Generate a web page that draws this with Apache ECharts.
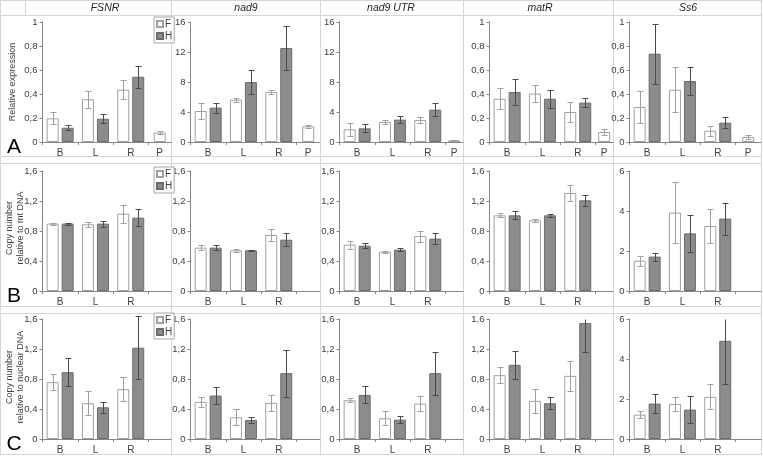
<!DOCTYPE html>
<html><head><meta charset="utf-8">
<script src="https://cdn.jsdelivr.net/npm/echarts@6/dist/echarts.min.js"></script>
<style>html,body{margin:0;padding:0;background:#fff}#c{width:763px;height:457px}</style>
</head><body><div id="c"></div>
<script>
// ---------- data ----------
const categories = ['B', 'L', 'R'];
const extraCategory = ['P'];
const genes = ['FSNR', 'nad9', 'nad9 UTR', 'matR', 'Ss6'];
const rowLetters = ['A', 'B', 'C'];
const rowTitles = ['Relative expression', 'Copy number\nrelative to mt DNA', 'Copy number\nrelative to nuclear DNA'];
const legendNames = ['F', 'H'];

// Row A: relative expression (per gene: B, L, R)
const exprF    = [[0.197, 0.356, 0.436], [4.13, 5.64, 6.67], [1.69, 2.67, 2.93], [0.361, 0.403, 0.25], [0.292, 0.436, 0.094]];
const exprFerr = [[0.049, 0.07, 0.078], [1.05, 0.25, 0.3], [0.85, 0.3, 0.38], [0.09, 0.072, 0.083], [0.13, 0.19, 0.04]];
const exprH    = [[0.119, 0.194, 0.544], [4.58, 8.0, 12.53], [1.82, 2.98, 4.31], [0.417, 0.361, 0.328], [0.736, 0.508, 0.161]];
const exprHerr = [[0.02, 0.036, 0.09], [0.65, 1.6, 2.95], [0.55, 0.5, 0.9], [0.11, 0.075, 0.038], [0.25, 0.117, 0.048]];
const exprP    = [0.078, 2.09, 0.22, 0.083, 0.042];
const exprPerr = [0.015, 0.23, 0.05, 0.027, 0.015];

// Row B: copy number relative to mt DNA
const mtF    = [[0.898, 0.889, 1.031], [0.578, 0.542, 0.747], [0.618, 0.524, 0.733], [1.009, 0.942, 1.307], [1.52, 3.92, 3.25]];
const mtFerr = [[0.012, 0.03, 0.12], [0.03, 0.022, 0.082], [0.055, 0.015, 0.073], [0.028, 0.022, 0.11], [0.25, 1.54, 0.84]];
const mtH    = [[0.898, 0.898, 0.978], [0.578, 0.542, 0.684], [0.604, 0.551, 0.698], [1.009, 1.009, 1.209], [1.72, 2.88, 3.62]];
const mtHerr = [[0.012, 0.038, 0.115], [0.03, 0.005, 0.09], [0.032, 0.018, 0.073], [0.055, 0.02, 0.075], [0.2, 0.93, 0.8]];

// Row C: copy number relative to nuclear DNA
const nuF    = [[0.758, 0.477, 0.664], [0.495, 0.29, 0.481], [0.517, 0.276, 0.472], [0.851, 0.508, 0.842], [1.22, 1.75, 2.11]];
const nuFerr = [[0.107, 0.163, 0.163], [0.062, 0.105, 0.103], [0.027, 0.093, 0.1], [0.107, 0.165, 0.196], [0.18, 0.35, 0.63]];
const nuH    = [[0.891, 0.423, 1.217], [0.579, 0.254, 0.878], [0.588, 0.258, 0.878], [0.989, 0.477, 1.546], [1.77, 1.47, 4.91]];
const nuHerr = [[0.185, 0.074, 0.42], [0.114, 0.038, 0.312], [0.113, 0.045, 0.285], [0.185, 0.078, 0.387], [0.48, 0.67, 2.15]];

const axisMax  = [[1, 16, 16, 1, 1], [1.6, 1.6, 1.6, 1.6, 6], [1.6, 1.6, 1.6, 1.6, 6]];
const axisStep = [[0.2, 4, 4, 0.2, 0.2], [0.4, 0.4, 0.4, 0.4, 2], [0.4, 0.4, 0.4, 0.4, 2]];

// ---------- layout / style ----------
const FONT = '"Liberation Sans", Arial, sans-serif';
const AXIS = '#868686', TXT = '#404040', LINE = '#d6d6d6';
const F_BORDER = '#a0a0a0', H_FILL = '#8c8c8c', H_BORDER = '#6c6c6c';
const F_ERR = '#a0a0a0', H_ERR = '#4a4a4a';
const CAT_W = 35.3;
const colX0 = [42.5, 190.5, 339.5, 489.5, 629.5];
const colRight = [171, 320, 463, 613, 761];
const rowTop = [22, 171, 319];
const PLOT_H = 120;
const BAR_W = 12, BAR_GAP = '25%', OFF = 7.5;

const rowsF = [exprF, mtF, nuF], rowsFerr = [exprFerr, mtFerr, nuFerr];
const rowsH = [exprH, mtH, nuH], rowsHerr = [exprHerr, mtHerr, nuHerr];

function fmt(v) { return String(Math.round(v * 100) / 100).replace('.', ','); }

function errRender(offset, color) {
  return function (params, api) {
    const i = api.value(0), v = api.value(1), e = api.value(2);
    const top = api.coord([i, v + e]);
    const bot = api.coord([i, v - e]);
    const x = Math.round(top[0] + offset) + 0.5;
    const cs = params.coordSys;
    let yT = top[1], capTop = true;
    if (yT < cs.y - 3) { yT = cs.y; capTop = false; }
    yT = Math.round(yT) + 0.5;
    const yB = Math.round(bot[1]) + 0.5;
    const st = { stroke: color, lineWidth: 1 };
    const ch = [{ type: 'line', shape: { x1: x, y1: yT, x2: x, y2: yB }, style: st }];
    if (capTop) ch.push({ type: 'line', shape: { x1: x - 3, y1: yT, x2: x + 3, y2: yT }, style: st });
    ch.push({ type: 'line', shape: { x1: x - 3, y1: yB, x2: x + 3, y2: yB }, style: st });
    return { type: 'group', children: ch };
  };
}

const grids = [], xAxes = [], yAxes = [], series = [], legends = [], graphics = [];
const labelStyle = { color: TXT, fontSize: 9.5, fontFamily: FONT };

for (let r = 0; r < 3; r++) {
  for (let c = 0; c < 5; c++) {
    const gi = grids.length;
    const x0 = colX0[c];
    const mainW = 3 * CAT_W;
    grids.push({ left: x0, top: rowTop[r], width: mainW, height: PLOT_H });
    grids.push({ left: x0 + mainW, top: rowTop[r], width: colRight[c] - (x0 + mainW), height: PLOT_H });
    xAxes.push({
      type: 'category', gridIndex: gi, data: categories,
      axisLine: { lineStyle: { color: AXIS } },
      axisTick: { show: true, length: 3, lineStyle: { color: AXIS } },
      axisLabel: { color: TXT, fontSize: 10, fontFamily: FONT, margin: 6, interval: 0 }
    });
    xAxes.push({
      type: 'category', gridIndex: gi + 1, data: r === 0 ? extraCategory : [''],
      axisLine: { lineStyle: { color: AXIS } },
      axisTick: { show: false },
      axisLabel: { color: TXT, fontSize: 10, fontFamily: FONT, margin: 6, interval: 0 }
    });
    yAxes.push({
      type: 'value', gridIndex: gi, min: 0, max: axisMax[r][c], interval: axisStep[r][c],
      axisLine: { show: true, lineStyle: { color: AXIS } },
      axisTick: { show: true, length: 3, lineStyle: { color: AXIS } },
      splitLine: { show: false },
      axisLabel: Object.assign({ margin: 5, formatter: fmt }, labelStyle)
    });
    yAxes.push({ type: 'value', gridIndex: gi + 1, min: 0, max: axisMax[r][c], show: false, splitLine: { show: false } });

    const fv = rowsF[r][c], fe = rowsFerr[r][c], hv = rowsH[r][c], he = rowsHerr[r][c];
    series.push({
      type: 'bar', name: 'F', xAxisIndex: gi, yAxisIndex: gi, data: fv,
      barWidth: BAR_W, barGap: BAR_GAP,
      itemStyle: { color: '#ffffff', borderColor: F_BORDER, borderWidth: 1 }
    });
    series.push({
      type: 'bar', name: 'H', xAxisIndex: gi, yAxisIndex: gi, data: hv,
      barWidth: BAR_W, barGap: BAR_GAP,
      itemStyle: { color: H_FILL, borderColor: H_BORDER, borderWidth: 1 }
    });
    series.push({
      type: 'custom', name: 'Ferr', xAxisIndex: gi, yAxisIndex: gi, z: 5,
      renderItem: errRender(-OFF, F_ERR), encode: { x: 0, y: 1 },
      data: fv.map((v, i) => [i, v, fe[i]])
    });
    series.push({
      type: 'custom', name: 'Herr', xAxisIndex: gi, yAxisIndex: gi, z: 5,
      renderItem: errRender(OFF, H_ERR), encode: { x: 0, y: 1 },
      data: hv.map((v, i) => [i, v, he[i]])
    });
    if (r === 0) {
      series.push({
        type: 'bar', name: 'F', xAxisIndex: gi + 1, yAxisIndex: gi + 1, data: [exprP[c]],
        barWidth: BAR_W,
        itemStyle: { color: '#ffffff', borderColor: F_BORDER, borderWidth: 1 }
      });
      series.push({
        type: 'custom', name: 'Perr', xAxisIndex: gi + 1, yAxisIndex: gi + 1, z: 5,
        renderItem: errRender(0, F_ERR), encode: { x: 0, y: 1 },
        data: [[0, exprP[c], exprPerr[c]]]
      });
    }
  }
}

const legendTops = [17, 167, 313];
for (let r = 0; r < 3; r++) {
  legends.push({
    data: legendNames, orient: 'vertical', left: 154, top: legendTops[r],
    itemWidth: 6, itemHeight: 6, itemGap: 2, padding: [2, 2, 2, 2],
    borderColor: '#a6a6a6', borderWidth: 1, backgroundColor: '#ffffff',
    selectedMode: false, icon: 'rect',
    textStyle: { color: TXT, fontSize: 10, fontFamily: FONT, padding: [0, 0, 0, -3] }
  });
}

// table lines
const lineStyle = { stroke: LINE, lineWidth: 1 };
[0.5, 15.5, 156.5, 163.5, 306.5, 313.5, 454.5].forEach(y => {
  graphics.push({ type: 'line', shape: { x1: 0, y1: y, x2: 762, y2: y }, style: lineStyle, silent: true, z: -10 });
});
[0.5, 171.5, 320.5, 463.5, 613.5, 761.5].forEach(x => {
  graphics.push({ type: 'line', shape: { x1: x, y1: 0, x2: x, y2: 455 }, style: lineStyle, silent: true, z: -10 });
});
graphics.push({ type: 'line', shape: { x1: 25.5, y1: 0, x2: 25.5, y2: 15.5 }, style: lineStyle, silent: true, z: -10 });

const titleX = [105, 246, 391, 540, 688];
genes.forEach((g, i) => {
  graphics.push({ type: 'text', x: titleX[i], y: 8.5, style: {
    text: g, align: 'center', verticalAlign: 'middle', fill: '#262626',
    font: 'italic 10.5px ' + FONT } });
});
const letterY = [147.5, 296.5, 444.5];
rowLetters.forEach((l, i) => {
  graphics.push({ type: 'text', x: 14, y: letterY[i], style: {
    text: l, align: 'center', verticalAlign: 'middle', fill: '#000', font: '21px ' + FONT } });
});
const nameY = [82, 228, 377], nameX = [13, 15, 15];
rowTitles.forEach((t, i) => {
  graphics.push({ type: 'text', x: nameX[i], y: nameY[i], rotation: Math.PI / 2, style: {
    text: t, align: 'center', verticalAlign: 'middle', fill: TXT, font: '9px ' + FONT, lineHeight: 10.5 } });
});

const chart = echarts.init(document.getElementById('c'), null, { renderer: 'canvas' });
chart.setOption({
  animation: false,
  backgroundColor: '#ffffff',
  grid: grids, xAxis: xAxes, yAxis: yAxes, series: series,
  legend: legends, graphic: graphics
});
</script></body></html>
